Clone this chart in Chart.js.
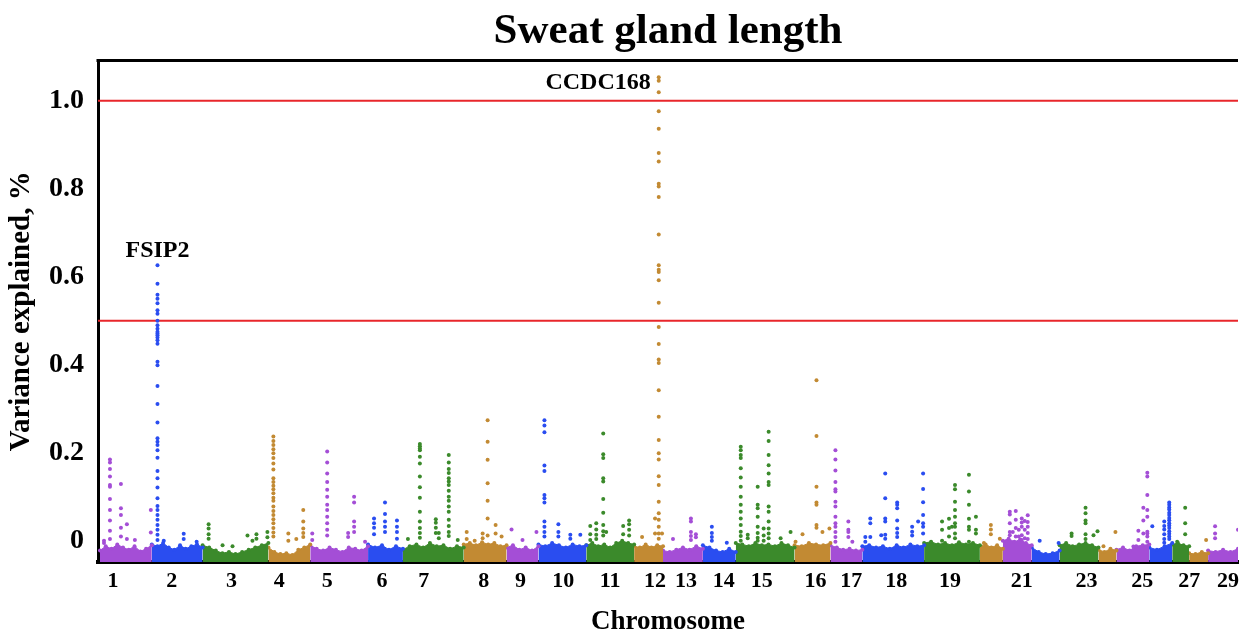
<!DOCTYPE html>
<html lang="en">
<head>
    <meta charset="UTF-8">
    <title>Sweat gland length</title>
    <script src="https://cdn.jsdelivr.net/npm/chart.js"></script>
    <style>
        body {
            margin: 0;
            background-color: #ffffff;
        }
        #manhattan {
            display: block;
        }
    </style>
</head>
<body>
    <canvas id="manhattan" width="1242" height="630"></canvas>

    <script>
        // Chromosomes and their relative sizes (number of markers, as spaced on the x axis)
        const chromosomes = ['1', '2', '3', '4', '5', '6', '7', '8', '9', '10', '11', '12', '13', '14', '15',
            '16', '17', '18', '19', '20', '21', '22', '23', '24', '25', '26', '27', '28', '29'];
        const chromSize = [52, 51, 66, 42, 58, 35, 61, 43, 32, 48, 48, 29, 40, 33, 59,
            36, 32, 62, 56, 23, 29, 28, 39, 18, 33, 23, 17, 19, 30];
        const chromColors = ['#a44ed6', '#2a4df0', '#3b8a2b', '#c28a33'];

        // Upper edge of the dense cloud of markers in each chromosome
        const bandTop = [
            [-0.022, -0.012, -0.018, -0.008, -0.015, -0.02, -0.012, -0.024, -0.018, -0.01],
            [-0.008, -0.012, -0.005, -0.015, -0.02, -0.01, -0.018, -0.012, -0.008, -0.015],
            [-0.01, -0.015, -0.022, -0.028, -0.025, -0.03, -0.025, -0.02, -0.015, -0.01, -0.005],
            [-0.015, -0.025, -0.03, -0.028, -0.032, -0.02, -0.015, -0.008],
            [-0.01, -0.018, -0.022, -0.015, -0.02, -0.025, -0.015, -0.018, -0.022, -0.012],
            [-0.008, -0.015, -0.01, -0.02, -0.012, -0.018],
            [-0.02, -0.012, -0.008, -0.015, -0.005, -0.012, -0.01, -0.018, -0.012, -0.015],
            [-0.008, -0.005, -0.01, -0.003, -0.008, -0.005, -0.012, -0.01],
            [-0.015, -0.01, -0.02, -0.015, -0.022, -0.012],
            [-0.008, -0.012, -0.005, -0.01, -0.015, -0.008, -0.012, -0.01],
            [-0.01, -0.005, -0.012, -0.008, -0.015, -0.005, 0.0, -0.005, -0.008],
            [-0.012, -0.015, -0.008, -0.015, -0.01, -0.012],
            [-0.022, -0.025, -0.02, -0.015, -0.02, -0.012, -0.018],
            [-0.01, -0.015, -0.022, -0.025, -0.018, -0.025],
            [-0.005, -0.008, -0.012, -0.005, -0.01, -0.008, -0.012, -0.005, -0.01, -0.015],
            [-0.01, -0.012, -0.005, -0.008, -0.01, -0.005],
            [-0.01, -0.015, -0.02, -0.018, -0.022, -0.02],
            [-0.012, -0.01, -0.015, -0.012, -0.018, -0.01, -0.015, -0.008, -0.012, -0.01],
            [-0.005, -0.002, -0.008, -0.005, -0.01, -0.003, -0.008, -0.005, -0.01],
            [-0.012, -0.008, -0.015, -0.01, -0.018],
            [0.0, 0.005, -0.002, 0.003, -0.005, -0.01],
            [-0.015, -0.025, -0.03, -0.028, -0.022],
            [-0.01, -0.005, -0.012, -0.008, -0.005, -0.01, -0.015],
            [-0.02, -0.025, -0.018, -0.022],
            [-0.02, -0.015, -0.022, -0.012, -0.01, -0.008],
            [-0.015, -0.02, -0.012, -0.005],
            [-0.008, -0.005, -0.01, -0.012],
            [-0.028, -0.03, -0.025, -0.028],
            [-0.022, -0.025, -0.02, -0.025, -0.018]
        ];

        // Markers standing above the cloud: [position inside chromosome, variance explained values]
        const spikes = [
            [[10, [0.185, 0.178, 0.163, 0.146, 0.127, 0.123, 0.095, 0.070, 0.046, 0.023, 0.004]],
             [21, [0.129, 0.074, 0.059, 0.030, 0.010]], [27, [0.038, 0.004]], [51, [0.070, 0.019]],
             [4, [0.0, -0.005]], [35, [0.002]]],
            [[5.7, [0.626, 0.584, 0.559, 0.550, 0.540, 0.524, 0.516, 0.500, 0.490, 0.482, 0.475, 0.471, 0.467,
                    0.462, 0.456, 0.448, 0.407, 0.399, 0.352, 0.311, 0.269, 0.233, 0.225, 0.218, 0.206, 0.189,
                    0.159, 0.142, 0.121, 0.097, 0.079, 0.070, 0.059, 0.048, 0.036, 0.025, 0.014, 0.002]],
             [32, [0.016, 0.004]], [12, [0.0]], [45, [-0.002]]],
            [[6, [0.038, 0.028, 0.015, 0.005]], [45, [0.012]], [54, [0.015, 0.005]], [50, [0.0]],
             [65, [0.020, 0.008]], [20, [-0.01]], [30, [-0.012]]],
            [[5, [0.237, 0.227, 0.218, 0.208, 0.199, 0.188, 0.176, 0.162, 0.142, 0.134, 0.125, 0.117, 0.108,
                  0.098, 0.091, 0.078, 0.068, 0.059, 0.049, 0.040, 0.029, 0.019, 0.010]],
             [20, [0.017, 0.0]], [35, [0.070, 0.044, 0.028, 0.018, 0.009]], [28, [0.004]]],
            [[17, [0.203, 0.178, 0.153, 0.134, 0.116, 0.100, 0.082, 0.070, 0.055, 0.040, 0.025, 0.012]],
             [44, [0.100, 0.087, 0.044, 0.032, 0.020]], [38, [0.018, 0.009]], [2, [0.017, 0.002]], [55, [-0.002]]],
            [[17, [0.087, 0.061, 0.044, 0.032, 0.020]], [6, [0.051, 0.040, 0.030, 0.015]],
             [29, [0.046, 0.032, 0.020, 0.005]]],
            [[17, [0.220, 0.215, 0.210, 0.206, 0.191, 0.176, 0.146, 0.122, 0.098, 0.066, 0.044, 0.029, 0.018, 0.007]],
             [46, [0.195, 0.178, 0.163, 0.154, 0.142, 0.135, 0.127, 0.114, 0.100, 0.091, 0.078, 0.066, 0.048,
                   0.034, 0.020, 0.011]],
             [33, [0.049, 0.041, 0.030, 0.018]], [36, [0.018, 0.006]], [55, [0.002]], [5, [0.004]]],
            [[24, [0.274, 0.225, 0.184, 0.131, 0.091, 0.051, 0.012]], [32, [0.036, 0.017]], [3, [0.020, 0.004]],
             [19, [0.017, 0.006]], [11, [0.0]], [38, [0.010]]],
            [[5, [0.026]], [16, [0.002]], [30, [0.020]]],
            [[6, [0.274, 0.262, 0.247, 0.171, 0.159, 0.104, 0.097, 0.087, 0.044, 0.032, 0.020, 0.010]],
             [20, [0.038, 0.020, 0.010]], [32, [0.014, 0.005]], [42, [0.014]]],
            [[17, [0.244, 0.197, 0.188, 0.142, 0.135, 0.095, 0.064, 0.036, 0.022, 0.012]],
             [10, [0.040, 0.026, 0.014, 0.004]], [4, [0.034, 0.015, 0.002]], [43, [0.046, 0.038, 0.025, 0.012]],
             [37, [0.034, 0.015]], [20, [0.020]]],
            [[24.7, [1.053, 1.045, 1.019, 0.976, 0.936, 0.881, 0.862, 0.811, 0.805, 0.781, 0.696, 0.626, 0.616,
                     0.611, 0.592, 0.541, 0.486, 0.447, 0.412, 0.404, 0.342, 0.282, 0.229, 0.199, 0.185, 0.147,
                     0.127, 0.089, 0.063, 0.048, 0.032, 0.017, 0.005]],
             [21, [0.051, 0.017]], [28, [0.017]], [8, [0.009]]],
            [[28, [0.051, 0.044, 0.020, 0.011, 0.002]], [10, [0.004]], [33, [0.015, 0.008]]],
            [[9, [0.032, 0.018, 0.009, 0.0]], [24, [-0.004]]],
            [[5, [0.214, 0.206, 0.195, 0.188, 0.165, 0.144, 0.123, 0.100, 0.082, 0.066, 0.051, 0.036, 0.021, 0.011, 0.0]],
             [33, [0.248, 0.227, 0.195, 0.172, 0.153, 0.134, 0.127, 0.078, 0.066, 0.044, 0.028, 0.017, 0.006]],
             [22, [0.123, 0.082, 0.074, 0.055, 0.032, 0.018, 0.007, 0.0]], [28, [0.028, 0.012, 0.0]],
             [12, [0.014, 0.006]], [45, [0.006]], [55, [0.020]]],
            [[22, [0.365, 0.238, 0.123, 0.087, 0.082, 0.036, 0.030]], [8, [0.015]], [1, [-0.002]],
             [35, [0.028]], [28, [0.020]]],
            [[5, [0.206, 0.185, 0.160, 0.134, 0.117, 0.112, 0.089, 0.078, 0.055, 0.040, 0.032, 0.020, 0.009, -0.002]],
             [18, [0.044, 0.025, 0.020, 0.009]], [22, [-0.002]]],
            [[23, [0.153, 0.097, 0.051, 0.044, 0.014, 0.005]], [35, [0.087, 0.082, 0.074, 0.046, 0.028, 0.018, 0.009]],
             [61, [0.153, 0.118, 0.088, 0.059, 0.040, 0.032, 0.017]], [8, [0.051, 0.040, 0.009]],
             [50, [0.032, 0.021, 0.012]], [56, [0.044]], [3, [0.009, -0.002]], [19, [0.013]]],
            [[31, [0.127, 0.117, 0.089, 0.070, 0.055, 0.040, 0.032, 0.017, 0.006]],
             [45, [0.150, 0.112, 0.082, 0.050, 0.032, 0.025, -0.002]], [52, [0.055, 0.025, 0.017]],
             [18, [0.044, 0.025, 0.0]], [25, [0.050, 0.029, 0.010]], [28, [0.032]]],
            [[11, [0.036, 0.026, 0.015]], [20, [0.005]], [4, [-0.005]]],
            [[7, [0.066, 0.060, 0.040, 0.020, 0.013]], [13, [0.068, 0.048, 0.029, 0.010]],
             [19, [0.051, 0.042, 0.032, 0.013, 0.002]], [25, [0.058, 0.043, 0.032, 0.018, 0.004]],
             [22, [0.045, 0.025, 0.006]], [10, [0.020]], [16, [0.025, 0.010]]],
            [[8, [0.0]], [27, [-0.005]]],
            [[26, [0.075, 0.063, 0.046, 0.040, 0.015, 0.004]], [12, [0.017, 0.011]], [34, [0.013]], [38, [0.022]]],
            [[17, [0.020]], [5, [-0.012]]],
            [[31, [0.155, 0.146, 0.104, 0.070, 0.055, 0.021, 0.017, 0.010, -0.002]], [27, [0.075, 0.046, 0.017]],
             [22, [0.023, 0.002]], [17, [-0.013]]],
            [[20, [0.087, 0.082, 0.076, 0.071, 0.064, 0.059, 0.052, 0.047, 0.040, 0.035, 0.029, 0.022, 0.016, 0.010, 0.004]],
             [15, [0.044, 0.034, 0.026, 0.015, 0.004, -0.004]], [3, [0.033]]],
            [[13, [0.075, 0.040, 0.015]], [5, [-0.002]]],
            [[17, [0.002]]],
            [[7, [0.033, 0.017, 0.006]], [30, [0.025]]]
        ];

        // Axis labels
        const xTickLabels = ['1', '2', '3', '4', '5', '6', '7', '8', '9', '10', '11', '12', '13', '14', '15',
            '16', '17', '18', '19', '21', '23', '25', '27', '29'];
        const xTickPos = [13, 72, 132, 180, 228, 283, 325, 385, 422, 465, 512, 557, 588, 626, 664,
            718, 754, 799, 853, 925, 990, 1046, 1093, 1132];
        const yTickValues = [0, 0.2, 0.4, 0.6, 0.8, 1.0];
        const yTickLabels = ['0', '0.2', '0.4', '0.6', '0.8', '1.0'];

        // Significance thresholds (red lines) and labelled genes
        const thresholds = [0.5, 1.0];
        const genes = [
            { label: 'FSIP2', chrom: 1, pos: 5.7, value: 0.626 },
            { label: 'CCDC168', chrom: 11, pos: 24.7, value: 1.045 }
        ];

        const serif = '"Liberation Serif", "Times New Roman", serif';

        // cumulative start of every chromosome on the x axis
        const chromStart = [];
        let total = 0;
        chromSize.forEach(s => { chromStart.push(total); total += s; });
        const xMin = -2;
        const xMax = total;

        const datasets = [];
        chromosomes.forEach((c, i) => {
            const color = chromColors[i % chromColors.length];
            const tops = bandTop[i];
            datasets.push({
                type: 'line',
                label: 'chr' + c + ' cloud',
                data: tops.map((v, k) => ({ x: chromStart[i] + chromSize[i] * k / (tops.length - 1), y: v })),
                borderColor: color,
                borderWidth: 1,
                backgroundColor: color,
                pointRadius: 2,
                pointBackgroundColor: color,
                pointBorderWidth: 0,
                tension: 0,
                fill: 'start',
                order: 3
            });
            const pts = [];
            spikes[i].forEach(([pos, vals]) => {
                vals.forEach(v => pts.push({ x: chromStart[i] + pos, y: v }));
            });
            datasets.push({
                type: 'scatter',
                label: 'chr' + c,
                data: pts,
                backgroundColor: color,
                pointRadius: 2,
                pointBorderWidth: 0,
                order: 1
            });
        });

        thresholds.forEach(t => {
            datasets.push({
                type: 'line',
                label: 'threshold ' + t,
                data: [{ x: xMin, y: t }, { x: xMax, y: t }],
                borderColor: '#e8262b',
                borderWidth: 2,
                pointRadius: 0,
                fill: false,
                order: 2
            });
        });

        // top frame line + gene names
        const framePlugin = {
            id: 'frame',
            afterDatasetsDraw(chart) {
                const { ctx, chartArea, scales } = chart;
                ctx.save();
                ctx.strokeStyle = '#000';
                ctx.lineWidth = 3;
                ctx.beginPath();
                ctx.moveTo(chartArea.left - 1.5, chartArea.top);
                ctx.lineTo(chartArea.right, chartArea.top);
                ctx.stroke();

                ctx.fillStyle = '#000';
                ctx.font = 'bold 24px ' + serif;
                ctx.textBaseline = 'middle';
                genes.forEach(g => {
                    const x = scales.x.getPixelForValue(chromStart[g.chrom] + g.pos);
                    const y = scales.y.getPixelForValue(g.value);
                    if (g.label === 'FSIP2') {
                        ctx.textAlign = 'center';
                        ctx.fillText(g.label, x, y - 15);
                    } else {
                        ctx.textAlign = 'right';
                        ctx.fillText(g.label, x - 8, y + 2);
                    }
                });
                ctx.restore();
            }
        };

        new Chart(document.getElementById('manhattan'), {
            type: 'scatter',
            data: { datasets: datasets },
            options: {
                responsive: false,
                animation: false,
                layout: { padding: 0 },
                plugins: {
                    legend: { display: false },
                    tooltip: { enabled: false },
                    title: {
                        display: true,
                        fullSize: false,
                        text: 'Sweat gland length',
                        color: '#000',
                        font: { family: serif, size: 43, weight: 'bold' },
                        padding: { top: 6, bottom: 3 }
                    }
                },
                scales: {
                    x: {
                        type: 'linear',
                        min: xMin,
                        max: xMax,
                        grid: { display: false, drawTicks: false },
                        border: { display: true, color: '#000', width: 4 },
                        afterBuildTicks: s => { s.ticks = xTickPos.map(v => ({ value: v })); },
                        afterFit: s => { s.height = 68; s.paddingRight = 0; s.paddingLeft = 0; },
                        ticks: {
                            autoSkip: false,
                            maxRotation: 0,
                            padding: 6,
                            color: '#000',
                            font: { family: serif, size: 22, weight: 'bold' },
                            callback: (v, i) => xTickLabels[i]
                        },
                        title: {
                            display: true,
                            text: 'Chromosome',
                            color: '#000',
                            font: { family: serif, size: 27, weight: 'bold', lineHeight: 1 },
                            padding: { top: 0, bottom: -6 }
                        }
                    },
                    y: {
                        min: -0.048,
                        max: 1.091,
                        grid: { display: false, drawTicks: false },
                        border: { display: true, color: '#000', width: 3 },
                        afterBuildTicks: s => { s.ticks = yTickValues.map(v => ({ value: v })); },
                        afterFit: s => { s.width = 98; },
                        ticks: {
                            padding: 14,
                            color: '#000',
                            font: { family: serif, size: 28, weight: 'bold' },
                            callback: (v, i) => yTickLabels[i]
                        },
                        title: {
                            display: true,
                            text: 'Variance explained, %',
                            color: '#000',
                            font: { family: serif, size: 29, weight: 'bold', lineHeight: 1 },
                            padding: { top: 7, bottom: 0 }
                        }
                    }
                }
            },
            plugins: [framePlugin]
        });
    </script>
</body>
</html>
